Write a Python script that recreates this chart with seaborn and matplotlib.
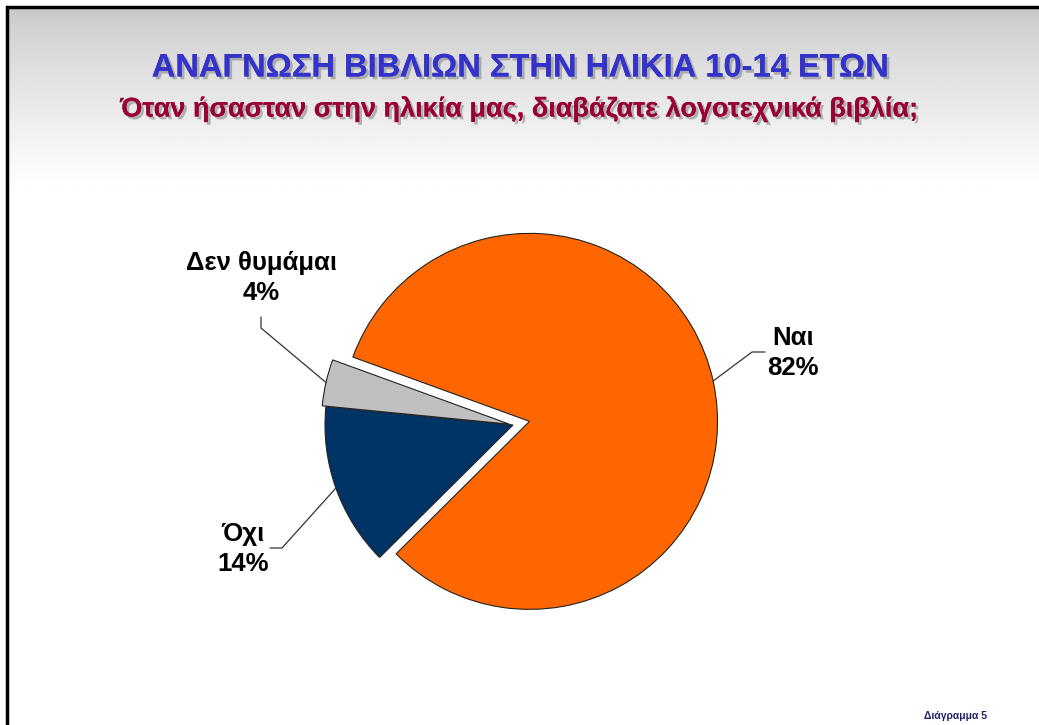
import numpy as np
import matplotlib
matplotlib.use('Agg')
import matplotlib.pyplot as plt
import matplotlib.patheffects as pe
import seaborn as sns

# Chart data
categories = ['Ναι', 'Όχι', 'Δεν θυμάμαι']
shares = [82, 14, 4]
pct_labels = ['82%', '14%', '4%']
slice_colors = ['#FF6600', '#003366', '#C0C0C0']
explode = [0.09, 0.0, 0.02]

title = 'ΑΝΑΓΝΩΣΗ ΒΙΒΛΙΩΝ ΣΤΗΝ ΗΛΙΚΙΑ 10-14 ΕΤΩΝ'
subtitle = 'Όταν ήσασταν στην ηλικία μας, διαβάζατε λογοτεχνικά βιβλία;'
footer = 'Διάγραμμα 5'


def main():
    sns.set_theme(style='white')
    plt.rcParams['font.family'] = ['Liberation Sans', 'DejaVu Sans']
    plt.rcParams['font.weight'] = 'bold'

    W, H = 1039, 725
    fig = plt.figure(figsize=(W / 100, H / 100), dpi=100)
    fig.patch.set_facecolor('white')

    # Background: grey-to-white gradient at top, black frame on top/left
    bg = fig.add_axes([0, 0, 1, 1], zorder=0)
    bg.set_xlim(0, W)
    bg.set_ylim(H, 0)
    bg.axis('off')
    grad = np.linspace(0, 1, 200)
    shade = 0.785 + (1 - 0.785) * grad ** 0.8
    img = np.repeat(shade[:, None], 2, axis=1)
    bg.imshow(img, cmap='gray', vmin=0, vmax=1, extent=[8, W, 190, 8],
              aspect='auto', interpolation='bilinear')
    bg.plot([7, 7, W], [H, 7, 7], color='black', lw=2.5, solid_joinstyle='miter')

    # Pie axes: 1 data unit = 188 px, pie centre at pixel (513, 425)
    r_px = 188.0
    cx, cy = 513.0, 425.0
    ax = fig.add_axes([0, 0, 1, 1], zorder=1)
    ax.patch.set_alpha(0)

    wedges, _ = ax.pie(shares, colors=slice_colors, explode=explode,
                       startangle=160, counterclock=False, radius=1.0,
                       wedgeprops=dict(edgecolor='#222222', linewidth=0.8))
    ax.set_xlim(-cx / r_px, (W - cx) / r_px)
    ax.set_ylim(-(H - cy) / r_px, cy / r_px)
    ax.set_aspect('equal')
    ax.axis('off')

    def px(x, y):
        return (x - cx) / r_px, (cy - y) / r_px

    # Label text positions (pixel) and leader elbows
    text_pos = [px(793, 353), px(243, 549), px(261, 278)]
    elbows = [[px(752, 352), px(765, 352)],
              [px(282, 548), px(270, 548)],
              [px(261, 328), px(261, 317)]]

    for i, w in enumerate(wedges):
        mid = np.deg2rad((w.theta1 + w.theta2) / 2)
        rr = 1.0 + explode[i]
        start = (rr * np.cos(mid), rr * np.sin(mid))
        pts = [start] + elbows[i]
        ax.plot([p[0] for p in pts], [p[1] for p in pts], color='#333333', lw=0.9)
        ax.text(text_pos[i][0], text_pos[i][1], f'{categories[i]}\n{pct_labels[i]}',
                ha='center', va='center', fontsize=18.5, fontweight='bold',
                color='black', linespacing=1.3)

    shadow = [pe.withSimplePatchShadow(offset=(2, -2), shadow_rgbFace='#888888', alpha=0.6),
              pe.Normal()]
    fig.text(0.5, 1 - 68 / H, title, ha='center', va='center', fontsize=23.5,
             fontweight='bold', color='#3333CC', path_effects=shadow)
    fig.text(0.5, 1 - 109 / H, subtitle, ha='center', va='center', fontsize=19.5,
             fontweight='bold', color='#990033', path_effects=shadow)
    fig.text(955 / W, 1 - 716 / H, footer, ha='center', va='center', fontsize=7.5,
             fontweight='bold', color='#1F1F6B')

    fig.savefig('out.png', dpi=100)


if __name__ == '__main__':
    main()
